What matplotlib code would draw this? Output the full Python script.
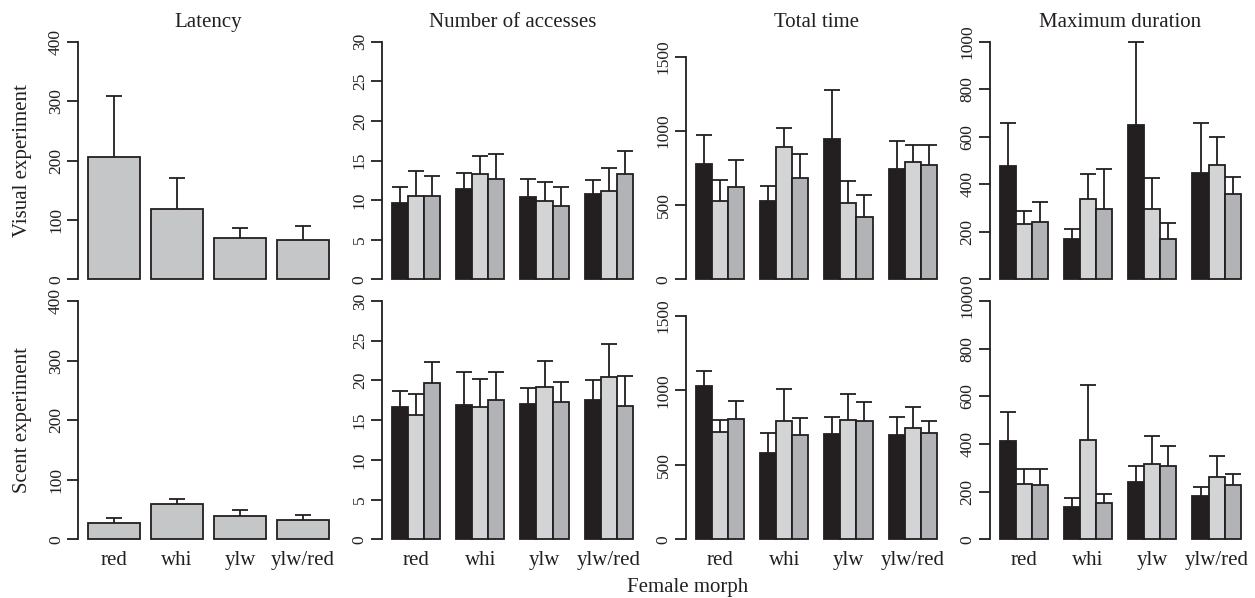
import numpy as np
import matplotlib
matplotlib.use('Agg')
import matplotlib.pyplot as plt

plt.rcParams['font.family'] = ['Liberation Serif', 'DejaVu Serif']

# ---------------- data ----------------
categories = ['red', 'whi', 'ylw', 'ylw/red']
titles = ['Latency', 'Number of accesses', 'Total time', 'Maximum duration']
row_labels = ['Visual experiment', 'Scent experiment']
xlabel = 'Female morph'

# Latency (single series)
lat_visual = [206, 118, 69, 66]
lat_visual_se = [103, 52, 17, 23]
lat_scent = [27, 59, 39, 32]
lat_scent_se = [9, 9, 11, 9]

# Number of accesses: three stimulus series (dark, light, mid grey)
na_vis_s1 = [9.6, 11.4, 10.4, 10.8]
na_vis_s1_se = [2.0, 2.0, 2.3, 1.8]
na_vis_s2 = [10.5, 13.3, 9.9, 11.2]
na_vis_s2_se = [3.2, 2.3, 2.4, 2.8]
na_vis_s3 = [10.5, 12.7, 9.2, 13.3]
na_vis_s3_se = [2.6, 3.1, 2.5, 2.9]

na_sc_s1 = [16.6, 16.9, 17.0, 17.5]
na_sc_s1_se = [2.1, 4.2, 2.1, 2.6]
na_sc_s2 = [15.6, 16.7, 19.2, 20.4]
na_sc_s2_se = [2.7, 3.5, 3.3, 4.2]
na_sc_s3 = [19.7, 17.5, 17.3, 16.8]
na_sc_s3_se = [2.6, 3.6, 2.5, 3.7]

# Total time
tt_vis_s1 = [776, 529, 945, 743]
tt_vis_s1_se = [198, 101, 331, 191]
tt_vis_s2 = [529, 889, 517, 787]
tt_vis_s2_se = [139, 128, 147, 120]
tt_vis_s3 = [621, 682, 419, 767]
tt_vis_s3_se = [185, 164, 152, 140]

tt_sc_s1 = [1030, 582, 705, 698]
tt_sc_s1_se = [98, 134, 117, 121]
tt_sc_s2 = [719, 797, 804, 748]
tt_sc_s2_se = [82, 213, 172, 138]
tt_sc_s3 = [810, 698, 792, 712]
tt_sc_s3_se = [121, 119, 133, 85]

# Maximum duration
md_vis_s1 = [477, 168, 649, 446]
md_vis_s1_se = [182, 42, 348, 212]
md_vis_s2 = [233, 337, 296, 481]
md_vis_s2_se = [53, 106, 132, 119]
md_vis_s3 = [242, 295, 171, 358]
md_vis_s3_se = [85, 168, 66, 73]

md_sc_s1 = [414, 134, 239, 180]
md_sc_s1_se = [120, 38, 69, 41]
md_sc_s2 = [232, 417, 317, 260]
md_sc_s2_se = [62, 231, 117, 91]
md_sc_s3 = [228, 151, 306, 229]
md_sc_s3_se = [66, 40, 86, 46]

# axis settings per measure
ylim_max = [400, 30, 1600, 1000]
ytick_max = [400, 30, 1500, 1000]
ytick_step = [100, 5, 500, 200]

# ---------------- style ----------------
INK = '#231f20'
LAT_COLOR = '#c5c6c8'
SERIES_COLORS = ['#231f20', '#d3d4d6', '#b1b3b6']
LW = 1.3

W, H = 1255, 598
fig = plt.figure(figsize=(W / 100, H / 100), dpi=100)

row_zero_px = [279.3, 539.3]
row_max_px = [41.7, 301.0]
panel_left0 = 78.4
panel_step = 303.9
panel_w = 260.2


def make_axes(row, col):
    span = row_zero_px[row] - row_max_px[row]
    top = row_max_px[row] - 0.04 * span
    height = 1.08 * span
    left = panel_left0 + panel_step * col
    return fig.add_axes([left / W, 1 - (top + height) / H, panel_w / W, height / H])


def draw_errors(ax, xs, means, ses):
    means = np.asarray(means, float)
    ses = np.asarray(ses, float)
    ax.vlines(xs, means, means + ses, colors=INK, lw=LW, zorder=1)
    ax.plot(xs, means + ses, ls='none', marker='_', ms=12, mew=LW,
            color=INK, zorder=1)


def style_axes(ax, col, bottom_row, xticks, xlim):
    ymax = ylim_max[col]
    ax.set_ylim(-0.04 * ymax, 1.04 * ymax)
    ax.set_xlim(*xlim)
    for s in ['top', 'right', 'bottom']:
        ax.spines[s].set_visible(False)
    ax.spines['left'].set_linewidth(LW)
    ax.spines['left'].set_color(INK)
    ax.spines['left'].set_bounds(0, ytick_max[col])
    ax.set_yticks(np.arange(0, ytick_max[col] + 1e-9, ytick_step[col]))
    ax.tick_params(axis='y', length=7.9, width=LW, color=INK, labelsize=12.5,
                   labelcolor=INK, pad=2.5)
    for lab in ax.get_yticklabels():
        lab.set_rotation(90)
        lab.set_va('center')
    ax.set_xticks(xticks)
    if bottom_row:
        ax.set_xticklabels(categories, fontsize=15, color=INK)
    else:
        ax.set_xticklabels([])
    ax.tick_params(axis='x', length=0, pad=1.5)
    ax.patch.set_visible(False)


latency_rows = [(lat_visual, lat_visual_se), (lat_scent, lat_scent_se)]
grouped = {
    1: [[(na_vis_s1, na_vis_s1_se), (na_vis_s2, na_vis_s2_se), (na_vis_s3, na_vis_s3_se)],
        [(na_sc_s1, na_sc_s1_se), (na_sc_s2, na_sc_s2_se), (na_sc_s3, na_sc_s3_se)]],
    2: [[(tt_vis_s1, tt_vis_s1_se), (tt_vis_s2, tt_vis_s2_se), (tt_vis_s3, tt_vis_s3_se)],
        [(tt_sc_s1, tt_sc_s1_se), (tt_sc_s2, tt_sc_s2_se), (tt_sc_s3, tt_sc_s3_se)]],
    3: [[(md_vis_s1, md_vis_s1_se), (md_vis_s2, md_vis_s2_se), (md_vis_s3, md_vis_s3_se)],
        [(md_sc_s1, md_sc_s1_se), (md_sc_s2, md_sc_s2_se), (md_sc_s3, md_sc_s3_se)]],
}

n = len(categories)
for row in range(2):
    # Latency panel (R barplot style, space = 0.2)
    ax = make_axes(row, 0)
    means, ses = latency_rows[row]
    lefts = 0.2 + 1.2 * np.arange(n)
    ax.bar(lefts, means, width=1.0, align='edge', color=LAT_COLOR,
           edgecolor=INK, linewidth=LW, zorder=2)
    draw_errors(ax, lefts + 0.5, means, ses)
    style_axes(ax, 0, row == 1, lefts + 0.5, (0.2 - 0.184, 4.8 + 0.184))

    # grouped panels (beside, space = c(0, 1))
    for col in (1, 2, 3):
        ax = make_axes(row, col)
        for k, (means, ses) in enumerate(grouped[col][row]):
            lefts = 1 + 4 * np.arange(n) + k
            draw_errors(ax, lefts + 0.5, means, ses)
            ax.bar(lefts, means, width=1.0, align='edge', color=SERIES_COLORS[k],
                   edgecolor=INK, linewidth=LW, zorder=2)
        style_axes(ax, col, row == 1, 2.5 + 4 * np.arange(n), (0.4, 16.6))

# titles
for col, t in enumerate(titles):
    cx = panel_left0 + panel_step * col + panel_w / 2
    fig.text(cx / W, 1 - 27.3 / H, t, ha='center', va='baseline',
             fontsize=15, color=INK)

# row labels
for row, t in enumerate(row_labels):
    cy = (row_zero_px[row] + row_max_px[row]) / 2
    fig.text(27 / W, 1 - cy / H, t, rotation=90, rotation_mode='anchor',
             ha='center', va='baseline', fontsize=15, color=INK)

fig.text(688 / W, 1 - 592 / H, xlabel, ha='center', va='baseline',
         fontsize=15, color=INK)

fig.savefig('out.png', dpi=100)
